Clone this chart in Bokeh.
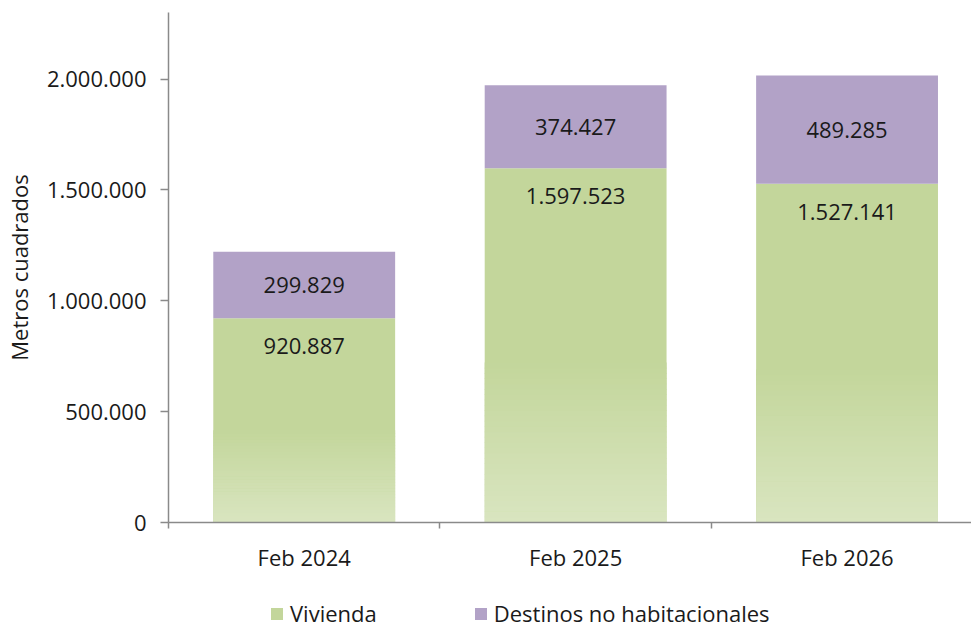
from bokeh.plotting import figure
from bokeh.layouts import column
from bokeh.models import (FixedTicker, Range1d, Legend, LegendItem, ColumnDataSource)
from bokeh.core.properties import value
from bokeh.embed import file_html
from bokeh.resources import INLINE

# ---- data ----
categories = ["Feb 2024", "Feb 2025", "Feb 2026"]
vivienda = [920887, 1597523, 1527141]
no_habitacional = [299829, 374427, 489285]
series_names = ["Vivienda", "Destinos no habitacionales"]
y_ticks = [0, 500000, 1000000, 1500000, 2000000]

def fmt(v):
    return f"{int(v):,}".replace(",", ".")

FONT = "Open Sans"
FS = "22px"
TXT = "#1a1a1a"
GREEN = "#c3d69b"
GREEN_LIGHT = (217, 229, 192)
GREEN_RGB = (195, 214, 155)
PURPLE = "#b2a2c7"
AXIS = "#8a8a8a"

xs = [i + 0.5 for i in range(len(categories))]
tops = [v + n for v, n in zip(vivienda, no_habitacional)]

p = figure(width=971, height=594, output_backend="svg", toolbar_location=None,
           x_range=Range1d(0, 2.9585), y_range=Range1d(0, 2300000),
           min_border_left=167, min_border_top=12, min_border_right=0,
           min_border_bottom=72)
p.outline_line_color = None
p.xgrid.visible = False
p.ygrid.visible = False
p.background_fill_color = "white"
p.border_fill_color = "white"

src = ColumnDataSource(dict(x=xs, viv=vivienda, nh=no_habitacional, top=tops,
                            viv_lbl=[fmt(v) for v in vivienda],
                            nh_lbl=[fmt(v) for v in no_habitacional],
                            nh_mid=[v + n / 2 for v, n in zip(vivienda, no_habitacional)]))

W = 0.67
p.vbar(x="x", top="viv", bottom=0, width=W, source=src,
       fill_color=GREEN, line_color=None)
p.vbar(x="x", top="top", bottom="viv", width=W, source=src,
       fill_color=PURPLE, line_color=None)

# gradient toward the bottom of each green bar (derived from the data values)
N = 30
frac = 0.45
gx, gb, gt, gc = [], [], [], []
for x, v in zip(xs, vivienda):
    for k in range(N):
        b = v * frac * k / N
        t = v * frac * (k + 1) / N
        f = (k + 0.5) / N  # 0 bottom -> 1 top
        c = tuple(int(round(GREEN_LIGHT[j] + (GREEN_RGB[j] - GREEN_LIGHT[j]) * f)) for j in range(3))
        gx.append(x); gb.append(b); gt.append(t + v * 0.002); gc.append("#%02x%02x%02x" % c)
p.vbar(x=gx, bottom=gb, top=gt, width=W, fill_color=gc, line_color=None)

# labels
p.text(x="x", y="viv", text="viv_lbl", source=src, text_align="center",
       text_baseline="middle", y_offset=28, text_font=value(FONT),
       text_font_size=FS, text_color=TXT)
p.text(x="x", y="nh_mid", text="nh_lbl", source=src, text_align="center",
       text_baseline="middle", text_font=value(FONT),
       text_font_size=FS, text_color=TXT)

# axes
xa = p.xaxis[0]
xa.ticker = FixedTicker(ticks=xs, minor_ticks=[0, 1, 2, 3])
xa.major_label_overrides = {x: c for x, c in zip(xs, categories)}
xa.major_tick_out = 0
xa.major_tick_in = 0
xa.minor_tick_out = 6
xa.minor_tick_in = 0
xa.minor_tick_line_color = AXIS
xa.minor_tick_line_width = 1.5
xa.axis_line_color = AXIS
xa.axis_line_width = 1.5
xa.major_label_standoff = 13
xa.major_label_text_font = FONT
xa.major_label_text_font_size = FS
xa.major_label_text_color = TXT

ya = p.yaxis[0]
ya.ticker = FixedTicker(ticks=y_ticks, minor_ticks=[])
ya.major_label_overrides = {t: fmt(t) for t in y_ticks}
ya.major_tick_out = 8
ya.major_tick_in = 0
ya.major_tick_line_color = AXIS
ya.major_tick_line_width = 1.5
ya.axis_line_color = AXIS
ya.axis_line_width = 1.5
ya.major_label_standoff = 14
ya.major_label_text_font = FONT
ya.major_label_text_font_size = FS
ya.major_label_text_color = TXT
ya.axis_label = "Metros cuadrados"
ya.axis_label_text_font = FONT
ya.axis_label_text_font_size = FS
ya.axis_label_text_font_style = "normal"
ya.axis_label_text_color = TXT
ya.axis_label_standoff = 10

# legend strip below the chart (its frame is aligned with the chart's frame)
pl = figure(width=971, height=34, output_backend="svg", toolbar_location=None,
            x_range=Range1d(-3, -2), y_range=Range1d(-3000000, -2900000),
            x_axis_type=None, y_axis_type=None,
            min_border_left=0, min_border_right=0, min_border_top=0, min_border_bottom=0)
pl.outline_line_color = None
pl.xgrid.visible = False
pl.ygrid.visible = False
# legend proxies: same data, outside this strip's visible ranges
r_green = pl.vbar(x="x", top="viv", bottom=0, width=W, source=src,
                  fill_color=GREEN, line_color=None)
r_purple = pl.vbar(x="x", top="top", bottom="viv", width=W, source=src,
                   fill_color=PURPLE, line_color=None)
legend = Legend(items=[LegendItem(label=series_names[0], renderers=[r_green]),
                       LegendItem(label=series_names[1], renderers=[r_purple])],
                location=(101, 0), orientation="horizontal",
                glyph_width=15, glyph_height=15, label_standoff=6, spacing=96,
                padding=0, margin=0, border_line_color=None,
                background_fill_alpha=0,
                label_text_font=FONT, label_text_font_size=FS,
                label_text_color=TXT)
pl.add_layout(legend, "center")

layout = column(p, pl, spacing=0)
open("out.html", "w").write(file_html(layout, INLINE))
